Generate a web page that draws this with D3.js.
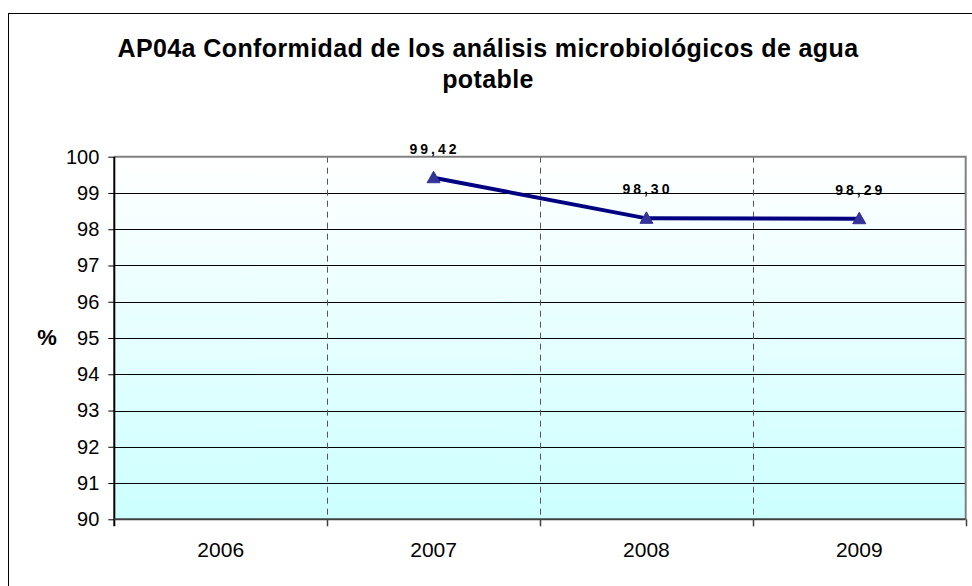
<!DOCTYPE html>
<html><head><meta charset="utf-8">
<script src="https://cdn.jsdelivr.net/npm/d3@7/dist/d3.min.js"></script>
<style>body{margin:0;background:#fff}svg{display:block}text{font-family:Arial,"Liberation Sans",sans-serif}</style>
</head><body>
<svg id="c" width="972" height="586"></svg>
<script>
const categories = ["2006","2007","2008","2009"];
const values = [null, 99.42, 98.30, 98.29];
const valueLabels = ["", "99,42", "98,30", "98,29"];
const yTicks = [90,91,92,93,94,95,96,97,98,99,100];
const titleLines = ["AP04a Conformidad de los análisis microbiológicos de agua", "potable"];
const yTitle = "%";

const svg = d3.select("#c");
const L = 114.3, R = 965.7, T = 156.7, B = 519.3;
const x = d3.scaleBand().domain(categories).range([L, R]).padding(0);
const y = d3.scaleLinear().domain([90, 100]).range([B, T]);

// outer frame
svg.append("rect").attr("x", 8.5).attr("y", 13.5).attr("width", 1000).attr("height", 1000)
  .attr("fill", "#fff").attr("stroke", "#000").attr("stroke-width", 1);

// gradient
const defs = svg.append("defs");
const g = defs.append("linearGradient").attr("id", "bg").attr("x1", 0).attr("y1", 0).attr("x2", 0).attr("y2", 1);
g.append("stop").attr("offset", "0%").attr("stop-color", "#ffffff");
g.append("stop").attr("offset", "100%").attr("stop-color", "#ccffff");
svg.append("rect").attr("x", L).attr("y", T).attr("width", R - L).attr("height", B - T).attr("fill", "url(#bg)");

// horizontal gridlines
svg.append("g").selectAll("line").data(yTicks.slice(1, -1)).join("line")
  .attr("x1", L).attr("x2", R).attr("y1", d => Math.round(y(d)) + 0.5).attr("y2", d => Math.round(y(d)) + 0.5)
  .attr("stroke", "#000").attr("stroke-width", 1);

// vertical dashed gridlines at category boundaries
svg.append("g").selectAll("line").data(categories.slice(1)).join("line")
  .attr("x1", d => Math.round(x(d)) + 0.5).attr("x2", d => Math.round(x(d)) + 0.5).attr("y1", T).attr("y2", B)
  .attr("stroke", "#555").attr("stroke-width", 1).attr("stroke-dasharray", "6,5");

// plot border top and right (gray)
svg.append("path").attr("d", `M${L},${T}H${R}V${B}`).attr("fill", "none").attr("stroke", "#808080").attr("stroke-width", 2);

// y axis
const yAxis = d3.axisLeft(y).tickValues(yTicks).tickSize(6).tickPadding(9).tickFormat(d3.format("d"));
const ya = svg.append("g").attr("transform", `translate(${L},0)`).call(yAxis);
ya.select(".domain").attr("stroke", "#000").attr("stroke-width", 2).attr("d", `M0,${T}V${B + 7}`);
ya.selectAll(".tick line").attr("stroke", "#000");
ya.selectAll(".tick text").attr("font-size", 20).attr("fill", "#000").attr("font-family", "Arial, Liberation Sans, sans-serif");

// x axis
const xAxis = d3.axisBottom(x).tickSize(0).tickPadding(23);
const xa = svg.append("g").attr("transform", `translate(0,${B})`).call(xAxis);
xa.select(".domain").attr("stroke", "#404040").attr("stroke-width", 2).attr("d", `M${L},0H${R}`);
xa.selectAll(".tick text").attr("font-size", 21).attr("fill", "#000").attr("font-family", "Arial, Liberation Sans, sans-serif");
// boundary tick marks
xa.append("g").selectAll("line").data(categories.slice(1).map(c => x(c)).concat([R])).join("line")
  .attr("x1", d => Math.round(d) + 0.5).attr("x2", d => Math.round(d) + 0.5).attr("y1", 0).attr("y2", 7)
  .attr("stroke", "#404040").attr("stroke-width", 1.5);

// line
const pts = categories.map((c, i) => ({c, v: values[i], lab: valueLabels[i]})).filter(d => d.v != null);
const line = d3.line().x(d => x(d.c) + x.bandwidth() / 2).y(d => y(d.v));
svg.append("path").datum(pts).attr("d", line).attr("fill", "none").attr("stroke", "#000080").attr("stroke-width", 4);

// markers
svg.append("g").selectAll("path").data(pts).join("path")
  .attr("transform", d => `translate(${x(d.c) + x.bandwidth() / 2},${y(d.v)})`)
  .attr("d", "M0,-6.5L6.5,5L-6.5,5Z").attr("fill", "#333399").attr("stroke", "#333399").attr("stroke-width", 1);

// data labels
svg.append("g").selectAll("text").data(pts).join("text")
  .attr("x", d => x(d.c) + x.bandwidth() / 2 + 1).attr("y", d => y(d.v) - 24)
  .attr("text-anchor", "middle").attr("font-size", 14).attr("font-weight", "bold").attr("letter-spacing", 3)
  .text(d => d.lab);

// title
svg.append("text").attr("x", 488).attr("text-anchor", "middle").attr("font-size", 25).attr("font-weight", "bold")
  .attr("letter-spacing", 0.4)
  .selectAll("tspan").data(titleLines).join("tspan").attr("x", 488).attr("y", (d, i) => 57 + i * 31).text(d => d);

// y title
svg.append("text").attr("x", 47).attr("y", 345).attr("text-anchor", "middle").attr("font-size", 22).attr("font-weight", "bold").text(yTitle);
</script>
</body></html>
